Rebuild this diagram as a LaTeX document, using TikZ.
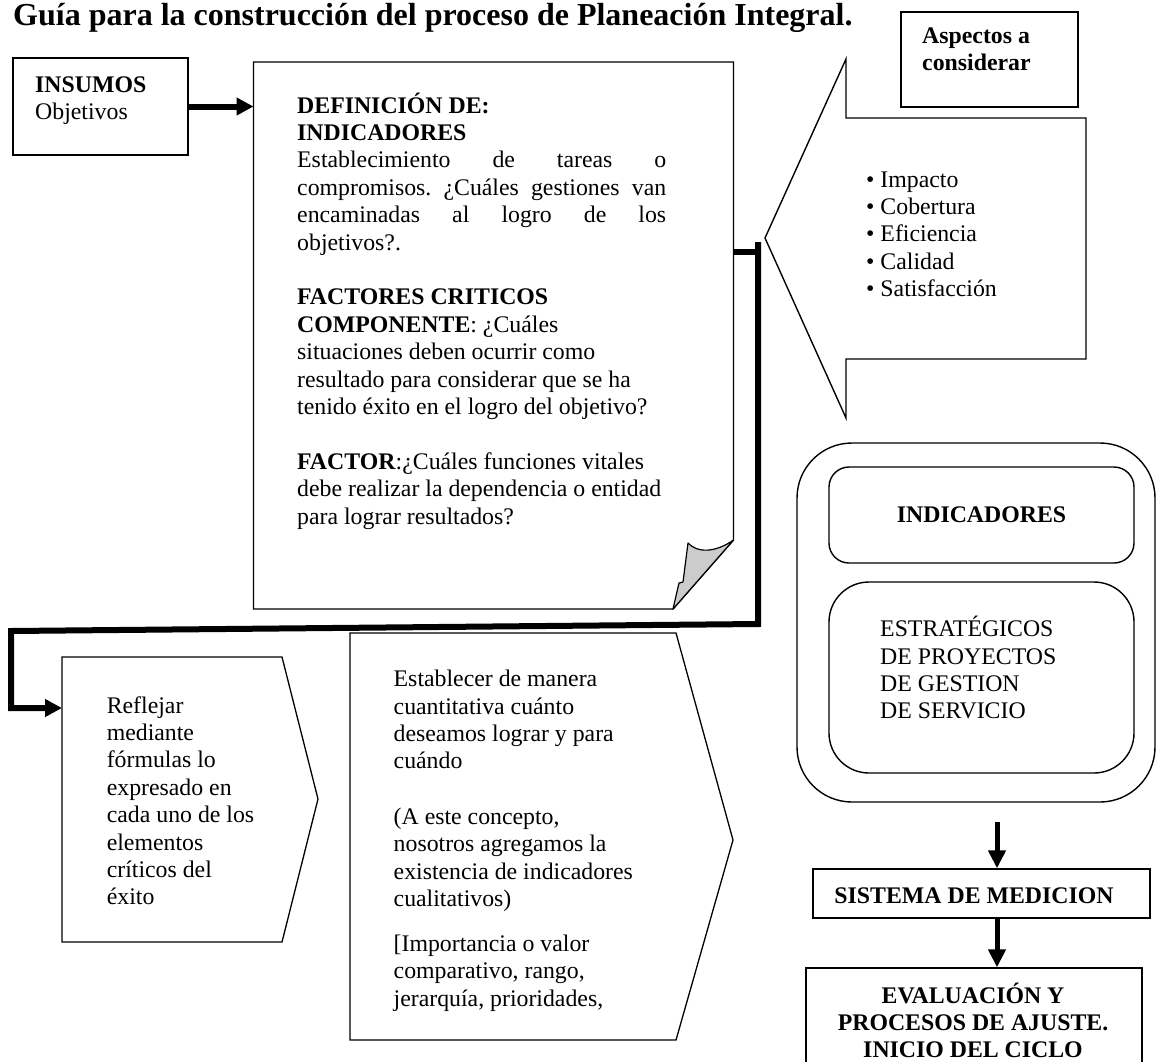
\documentclass[tikz,border=0pt]{standalone}
\usepackage{fontspec}
\setmainfont{Liberation Serif}
\usetikzlibrary{arrows.meta}
\newcommand\bodyfs{\fontsize{23.8pt}{27.4pt}\selectfont}
\frenchspacing
\begin{document}
\frenchspacing
\begin{tikzpicture}[x=1pt,y=-1pt,
  box/.style={draw, line width=1.4pt, inner sep=0pt},
  txt/.style={inner sep=0pt, anchor=base west, font=\bodyfs},
  conn/.style={line width=6pt},
  bigarrow/.style={line width=6pt, -{Triangle[length=17pt,width=17pt]}},
  varrow/.style={line width=5pt, -{Triangle[length=18pt,width=17pt]}},
]
\useasboundingbox (0,0) rectangle (1156,1061);

% title
\node[inner sep=0pt, anchor=base west, font=\fontsize{32pt}{36pt}\selectfont\bfseries] (title) at (13,25)
  {Guía para la construcción del proceso de Planeación Integral.};

% insumos
\node[box, minimum width=175pt, minimum height=97pt] (insumos) at (100.5,106.5) {};
\node[txt] (insumosT) at (35,92) {\begin{tabular}[t]{@{}l@{}}\textbf{INSUMOS}\\Objetivos\end{tabular}};

% document box with folded corner
\coordinate (docNW) at (253.5,62);
\coordinate (docR) at (733.5,252);
\draw[line width=1.4pt, fill=white] (docNW) -- (733.5,62) -- (733.5,540) -- (673,609) -- (253.5,609) -- cycle;
\draw[line width=1.2pt, fill=gray!40, line join=round] (733.5,540) .. controls (715,553) and (697,553) .. (688,543)
  -- (683,582) -- (679,583) -- (673,609) -- cycle;
\node[txt] (docT) at (297,113) {\parbox[t]{369pt}{\raggedright\frenchspacing
\textbf{DEFINICIÓN DE:}\\
\textbf{INDICADORES}\\
\makebox[\linewidth][s]{Establecimiento de tareas o}\\
\makebox[\linewidth][s]{compromisos. ¿Cuáles gestiones van}\\
\makebox[\linewidth][s]{encaminadas al logro de los}\\
objetivos?.\\[27.4pt]
\textbf{FACTORES CRITICOS}\\
\textbf{COMPONENTE}: ¿Cuáles\\
situaciones deben ocurrir como\\
resultado para considerar que se ha\\
tenido éxito en el logro del objetivo?\\[27.4pt]
\textbf{FACTOR}:¿Cuáles funciones vitales\\
debe realizar la dependencia o entidad\\
para lograr resultados?}};

\draw[bigarrow] (insumos.east) -- (insumos.east -| docNW);

% aspectos
\node[box, minimum width=177pt, minimum height=95pt] (aspectos) at (989.5,59.5) {};
\node[txt, font=\bodyfs\bfseries] (aspectosT) at (922,43) {\begin{tabular}[t]{@{}l@{}}Aspectos a\\considerar\end{tabular}};

% callout arrow
\coordinate (tip) at (765,238);
\draw[line width=1.4pt] (tip) -- (846,59) -- (846,118) -- (1086,118) -- (1086,359) -- (846,359) -- (846,418) -- cycle;
\node[txt] (bullets) at (866,187) {\begin{tabular}[t]{@{}l@{}}• Impacto\\• Cobertura\\• Eficiencia\\• Calidad\\• Satisfacción\end{tabular}};

% reflejar pentagon
\coordinate (refW) at (62,708);
\draw[line width=1.3pt] (62,657) -- (282,657) -- (318,799) -- (282,942) -- (62,942) -- cycle;
\node[txt] (reflejarT) at (106.6,713) {\begin{tabular}[t]{@{}l@{}}Reflejar\\mediante\\fórmulas lo\\expresado en\\cada uno de los\\elementos\\críticos del\\éxito\end{tabular}};

% establecer pentagon
\draw[line width=1.3pt] (350,633) -- (676,633) -- (733,840) -- (676,1040) -- (350,1040) -- cycle;
\node[txt] (establecerT) at (393.5,686.7) {\begin{tabular}[t]{@{}l@{}}Establecer de manera\\cuantitativa cuánto\\deseamos lograr y para\\cuándo\\[28pt]
(A este concepto,\\nosotros agregamos la\\existencia de indicadores\\cualitativos)\\[17.6pt]
[Importancia o valor\\comparativo, rango,\\jerarquía, prioridades,\end{tabular}};

% thick connector doc -> reflejar
\draw[conn] (docR) -- (758,252);
\draw[bigarrow] (758,242) -- (758,624) -- (11,631) -- (11,708) -- (refW);

% right side
\node[box, rounded corners=55pt, minimum width=358pt, minimum height=359pt] (outer) at (976,622.5) {};
\node[box, rounded corners=20pt, minimum width=305pt, minimum height=96pt, font=\bodyfs\bfseries] (indic) at (981.5,515) {INDICADORES};
\node[box, rounded corners=40pt, minimum width=305pt, minimum height=191pt] (estrat) at (981.5,677.5) {};
\node[txt] (estratT) at (880,636.7) {\begin{tabular}[t]{@{}l@{}}ESTRATÉGICOS\\DE PROYECTOS\\DE GESTION\\DE SERVICIO\end{tabular}};

\coordinate (a1) at (997,822);
\node[box, minimum width=337pt, minimum height=49pt] (sistema) at (981.5,893.5) {};
\node[txt, anchor=base, font=\bodyfs\bfseries] (sistemaT) at (974,903) {SISTEMA DE MEDICION};
\node[box, minimum width=336pt, minimum height=132pt] (eval) at (974,1034) {};
\node[txt, anchor=base, font=\bodyfs\bfseries] (evalT) at (973,1003) {\begin{tabular}[t]{@{}c@{}}EVALUACIÓN Y\\PROCESOS DE AJUSTE.\\INICIO DEL CICLO\end{tabular}};

\draw[varrow] (a1) -- (a1 |- sistema.north);
\draw[varrow] (sistema.south -| a1) -- (eval.north -| a1);
\end{tikzpicture}
\end{document}
